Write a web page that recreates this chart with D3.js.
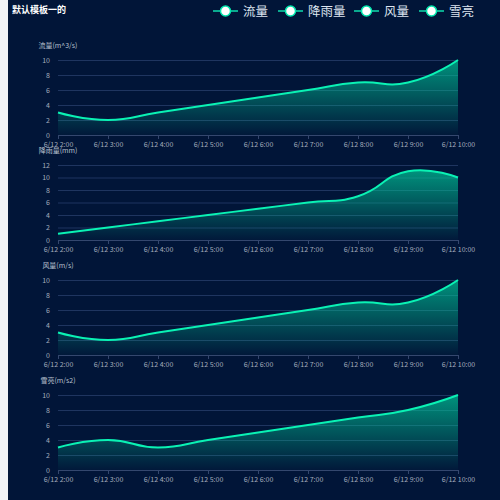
<!DOCTYPE html>
<html>
<head>
<meta charset="utf-8">
<script src="https://cdn.jsdelivr.net/npm/d3@7"></script>
<style>
  html, body { margin: 0; padding: 0; background: #f0f2f5; }
  #chart { position: absolute; left: 8px; top: 0; width: 492px; height: 500px; background: #011538; }
  text { font-family: "Noto Sans CJK SC", "Noto Sans", sans-serif; }
</style>
</head>
<body>
<div id="chart"></div>
<script>
/* data */
var times = ["6/12 2:00","6/12 3:00","6/12 4:00","6/12 5:00","6/12 6:00","6/12 7:00","6/12 8:00","6/12 9:00","6/12 10:00"];
var flow = [3, 2, 3, 4, 5, 6, 7, 7, 10];
var rain = [1, 2, 3, 4, 5, 6, 7, 11, 10];
var wind = [3, 2, 3, 4, 5, 6, 7, 7, 10];
var snow = [3, 4, 3, 4, 5, 6, 7, 8, 10];
var seriesNames = ["流量", "降雨量", "风量", "雪亮"];
var axisNames = ["流量(m^3/s)", "降雨量(mm)", "风量(m/s)", "雪亮(m/s2)"];
var yMax = [10, 12, 10, 10];

var W = 492, H = 500, ox = 8;
var svg = d3.select("#chart").append("svg").attr("width", W).attr("height", H);

var defs = svg.append("defs");
var grad = defs.append("linearGradient").attr("id", "areaGrad")
  .attr("x1", 0).attr("y1", 0).attr("x2", 0).attr("y2", 1);
grad.append("stop").attr("offset", "0%").attr("stop-color", "#00c89a").attr("stop-opacity", 0.7);
grad.append("stop").attr("offset", "100%").attr("stop-color", "#00c89a").attr("stop-opacity", 0.02);

// title
svg.append("text").attr("x", 12 - ox).attr("y", 12.5)
  .attr("fill", "#fff").attr("font-size", 9).attr("font-weight", "bold")
  .text("默认模板一的");

// legend
var legendX = [213, 278, 354, 419];
var lg = svg.append("g").selectAll("g").data(seriesNames).enter().append("g")
  .attr("transform", function(d, i) { return "translate(" + (legendX[i] - ox) + ",11)"; });
lg.append("line").attr("x1", 0).attr("x2", 25).attr("stroke", "#0aa98f").attr("stroke-width", 2);
lg.append("circle").attr("cx", 12.5).attr("r", 5).attr("fill", "#fff")
  .attr("stroke", "#00e5ac").attr("stroke-width", 1.5);
lg.append("text").attr("x", 30).attr("dy", "0.36em").attr("fill", "#dde4ef")
  .attr("font-size", 12.5).text(function(d) { return d; });

// echarts-like smooth line
function smoothPath(pts, path, move) {
  var s = 0.5, n = pts.length;
  var cps = pts.map(function(p, i) {
    if (i === 0 || i === n - 1) return {prev: p, next: p};
    var a = pts[i - 1], b = pts[i + 1];
    var vx = b[0] - a[0], vy = b[1] - a[1];
    var l0 = Math.hypot(p[0] - a[0], p[1] - a[1]);
    var l1 = Math.hypot(b[0] - p[0], b[1] - p[1]);
    var r = l1 / (l0 + l1);
    return {
      prev: [p[0] - vx * s * (1 - r), p[1] - vy * s * (1 - r)],
      next: [p[0] + vx * s * r, p[1] + vy * s * r]
    };
  });
  if (move) path.moveTo(pts[0][0], pts[0][1]); else path.lineTo(pts[0][0], pts[0][1]);
  for (var i = 1; i < n; i++) {
    path.bezierCurveTo(cps[i - 1].next[0], cps[i - 1].next[1], cps[i].prev[0], cps[i].prev[1], pts[i][0], pts[i][1]);
  }
  return path;
}

var grids = [
  {top: 60, bottom: 135, values: flow},
  {top: 165, bottom: 240, values: rain},
  {top: 280, bottom: 355, values: wind},
  {top: 395, bottom: 470, values: snow}
];

var x = d3.scalePoint().domain(times).range([58 - ox, 458 - ox]);

grids.forEach(function(gd, k) {
  var y = d3.scaleLinear().domain([0, yMax[k]]).range([gd.bottom, gd.top]);
  var g = svg.append("g");

  // grid lines + y labels
  var yAxis = d3.axisLeft(y).ticks(yMax[k] / 2).tickSize(-(x.range()[1] - x.range()[0])).tickPadding(8);
  var ya = g.append("g").attr("transform", "translate(" + x.range()[0] + ",0)").call(yAxis);
  ya.select(".domain").remove();
  ya.selectAll(".tick line").attr("stroke", "#1f3560").attr("stroke-width", 1);
  ya.selectAll(".tick text").attr("fill", "#a4adbd").attr("font-size", 7)
    .attr("font-family", "'Noto Sans CJK SC', sans-serif");

  // axis name
  g.append("text").attr("x", x.range()[0]).attr("y", gd.top - 12)
    .attr("text-anchor", "middle").attr("fill", "#b8c0ce").attr("font-size", 7)
    .text(axisNames[k]);

  var pts = gd.values.map(function(v, i) { return [x(times[i]), y(v)]; });

  // area
  var ap = d3.path();
  smoothPath(pts, ap, true);
  ap.lineTo(pts[pts.length - 1][0], gd.bottom);
  ap.lineTo(pts[0][0], gd.bottom);
  ap.closePath();
  g.append("path").attr("d", ap.toString()).attr("fill", "url(#areaGrad)");

  // x axis
  var xAxis = d3.axisBottom(x).tickSizeOuter(0).tickSize(4).tickPadding(3);
  var xa = g.append("g").attr("transform", "translate(0," + gd.bottom + ")").call(xAxis);
  xa.select(".domain").attr("stroke", "#34476e");
  xa.selectAll(".tick line").attr("stroke", "#34476e");
  xa.selectAll(".tick text").attr("fill", "#a4adbd").attr("font-size", 7)
    .attr("font-family", "'Noto Sans CJK SC', sans-serif");

  // line
  var lp = d3.path();
  smoothPath(pts, lp, true);
  g.append("path").attr("d", lp.toString()).attr("fill", "none")
    .attr("stroke", "#0af2b4").attr("stroke-width", 2);
});
</script>
</body>
</html>
